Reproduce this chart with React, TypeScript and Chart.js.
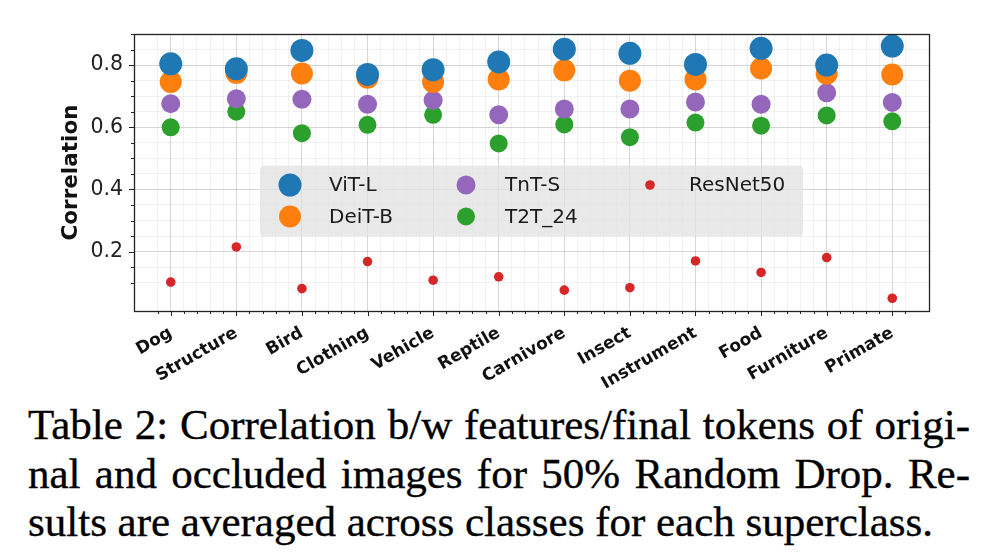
import React, { useEffect, useRef } from "react";
import { Chart, registerables } from "chart.js";

Chart.register(...registerables);

const categories = ["Dog", "Structure", "Bird", "Clothing", "Vehicle", "Reptile", "Carnivore", "Insect", "Instrument", "Food", "Furniture", "Primate"];
const vitL = [0.804, 0.788, 0.847, 0.770, 0.785, 0.810, 0.851, 0.838, 0.802, 0.854, 0.800, 0.861];
const deitB = [0.746, 0.775, 0.773, 0.759, 0.746, 0.754, 0.783, 0.750, 0.754, 0.789, 0.772, 0.770];
const tntS = [0.676, 0.692, 0.690, 0.674, 0.687, 0.640, 0.659, 0.659, 0.681, 0.674, 0.711, 0.680];
const t2t24 = [0.600, 0.650, 0.581, 0.608, 0.640, 0.548, 0.609, 0.568, 0.615, 0.605, 0.638, 0.619];
const resnet50 = [0.102, 0.215, 0.081, 0.168, 0.108, 0.119, 0.076, 0.084, 0.170, 0.133, 0.181, 0.050];
const seriesNames = ["ViT-L", "DeiT-B", "TnT-S", "T2T_24", "ResNet50"];
const yTickLabels = [0.2, 0.4, 0.6, 0.8];
const captionLines = [
  "Table 2: Correlation b/w features/final tokens of origi-",
  "nal and occluded images for 50% Random Drop. Re-",
  "sults are averaged across classes for each superclass.",
];

const isMult = (v: number, s: number) => Math.abs(v / s - Math.round(v / s)) < 1e-6;

const toPts = (arr: number[]) => arr.map((y, i) => ({ x: i, y }));

const decor = {
  id: "decor",
  afterDraw(chart: any) {
    const { ctx, chartArea: a, scales } = chart;
    ctx.save();
    ctx.strokeStyle = "#222";
    ctx.lineWidth = 1;
    // y ticks
    for (const t of scales.y.ticks) {
      const v = t.value;
      if (!isMult(v, 0.05) || v <= 0.001) continue;
      const major = yTickLabels.some((m) => Math.abs(m - v) < 1e-6);
      const py = Math.round(scales.y.getPixelForValue(v)) + 0.5;
      const len = major ? 5 : 3;
      ctx.beginPath();
      ctx.moveTo(a.left - len, py);
      ctx.lineTo(a.left, py);
      ctx.stroke();
    }
    // x ticks
    for (const t of scales.x.ticks) {
      const v = t.value;
      if (!isMult(v, 0.2)) continue;
      const major = isMult(v, 1);
      const px = Math.round(scales.x.getPixelForValue(v)) + 0.5;
      const len = major ? 5 : 3;
      ctx.beginPath();
      ctx.moveTo(px, a.bottom);
      ctx.lineTo(px, a.bottom + len);
      ctx.stroke();
    }
    // frame
    ctx.lineWidth = 1.3;
    ctx.strokeStyle = "#222";
    ctx.strokeRect(Math.round(a.left) + 0.5, Math.round(a.top) + 0.5, Math.round(a.right - a.left), Math.round(a.bottom - a.top));

    // legend
    const bx = a.left + 126;
    const by = a.top + 131.5;
    const bw = 543;
    const bh = 71;
    ctx.fillStyle = "rgba(226,226,226,0.75)";
    const r = 4;
    ctx.beginPath();
    ctx.moveTo(bx + r, by);
    ctx.lineTo(bx + bw - r, by);
    ctx.quadraticCurveTo(bx + bw, by, bx + bw, by + r);
    ctx.lineTo(bx + bw, by + bh - r);
    ctx.quadraticCurveTo(bx + bw, by + bh, bx + bw - r, by + bh);
    ctx.lineTo(bx + r, by + bh);
    ctx.quadraticCurveTo(bx, by + bh, bx, by + bh - r);
    ctx.lineTo(bx, by + r);
    ctx.quadraticCurveTo(bx, by, bx + r, by);
    ctx.fill();
    const colX = [30, 206, 390];
    const rowY = [19.5, 51];
    ctx.font = "20px 'DejaVu Sans'";
    ctx.textBaseline = "middle";
    ctx.textAlign = "left";
    chart.data.datasets.forEach((ds: any, i: number) => {
      const col = Math.floor(i / 2);
      const row = i % 2;
      const mx = bx + colX[col];
      const my = by + rowY[row];
      ctx.fillStyle = ds.backgroundColor;
      ctx.beginPath();
      ctx.arc(mx, my, ds.pointRadius, 0, Math.PI * 2);
      ctx.fill();
      ctx.fillStyle = "#1a1a1a";
      ctx.fillText(ds.label, mx + 39, my + 1);
    });
    ctx.restore();
  },
};

export default function App() {
  const ref = useRef<HTMLCanvasElement>(null);
  useEffect(() => {
    if (!ref.current) return;
    Chart.defaults.font.family = "'DejaVu Sans'";
    const mk = (label: string, data: number[], color: string, radius: number, order: number) => ({
      label,
      data: toPts(data),
      backgroundColor: color,
      borderColor: color,
      borderWidth: 0,
      pointRadius: radius,
      pointHoverRadius: radius,
      order,
    });
    const chart = new Chart(ref.current, {
      type: "scatter",
      data: {
        datasets: [
          mk(seriesNames[0], vitL, "#1f77b4", 11.5, 0),
          mk(seriesNames[1], deitB, "#ff7f0e", 11, 1),
          mk(seriesNames[2], tntS, "#9467bd", 9.5, 2),
          mk(seriesNames[3], t2t24, "#2ca02c", 9, 3),
          mk(seriesNames[4], resnet50, "#d62728", 4.8, 4),
        ],
      },
      options: {
        animation: false,
        responsive: false,
        events: [],
        layout: { padding: { left: 0, top: 34, right: 59, bottom: 0 } },
        plugins: { legend: { display: false }, tooltip: { enabled: false } },
        scales: {
          x: {
            type: "linear",
            min: -0.56,
            max: 11.56,
            border: { display: false },
            grid: {
              drawTicks: false,
              color: (c: any) => {
                const v = c.tick ? c.tick.value : 0;
                if (isMult(v, 1)) return "rgba(0,0,0,0.16)";
                if (isMult(v, 0.2)) return "rgba(0,0,0,0.05)";
                return "rgba(0,0,0,0)";
              },
            },
            ticks: {
              stepSize: 0.2,
              autoSkip: false,
              minRotation: 30,
              maxRotation: 30,
              padding: 12,
              color: "#111",
              font: { size: 17, weight: "bold" },
              callback: (v: any) => (isMult(Number(v), 1) ? categories[Math.round(Number(v))] ?? "" : ""),
            },
            afterFit: (s: any) => {
              s.height = 89;
            },
          },
          y: {
            type: "linear",
            min: 0.009,
            max: 0.9,
            border: { display: false },
            grid: {
              drawTicks: false,
              color: (c: any) => {
                const v = c.tick ? c.tick.value : 0;
                if (yTickLabels.some((m) => Math.abs(m - v) < 1e-6)) return "rgba(0,0,0,0.16)";
                if (isMult(v, 0.05) && v > 0.001 && v < 0.899) return "rgba(0,0,0,0.05)";
                return "rgba(0,0,0,0)";
              },
            },
            title: {
              display: true,
              text: "Correlation",
              color: "#111",
              font: { size: 21.5, weight: "bold" },
              padding: { top: 58.8, bottom: 0 },
            },
            ticks: {
              stepSize: 0.05,
              autoSkip: false,
              padding: 11,
              color: "#222",
              font: { size: 20.5 },
              callback: (v: any) => {
                const n = Number(v);
                const m = yTickLabels.find((t) => Math.abs(t - n) < 1e-6);
                return m !== undefined ? m.toFixed(1) : "";
              },
            },
            afterFit: (s: any) => {
              s.width = 134;
            },
          },
        },
      },
      plugins: [decor],
    });
    return () => chart.destroy();
  }, []);

  return (
    <div style={{ position: "absolute", left: 0, top: 0, width: 988, height: 552, background: "#fff", overflow: "hidden" }}>
      <canvas ref={ref} width={988} height={400} style={{ position: "absolute", left: 0, top: 0, width: 988, height: 400 }} />
      <div
        style={{
          position: "absolute",
          left: 28,
          top: 401,
          width: 942,
          fontFamily: "'Liberation Serif', serif",
          fontSize: 43,
          lineHeight: "48.5px",
          color: "#000",
          WebkitTextStroke: "0.35px #000",
        }}
      >
        {captionLines.map((l, i) => (
          <div
            key={i}
            style={{
              textAlign: i < captionLines.length - 1 ? "justify" : "left",
              textAlignLast: i < captionLines.length - 1 ? "justify" : "left",
              whiteSpace: "nowrap",
            }}
          >
            {l}
          </div>
        ))}
      </div>
    </div>
  );
}
